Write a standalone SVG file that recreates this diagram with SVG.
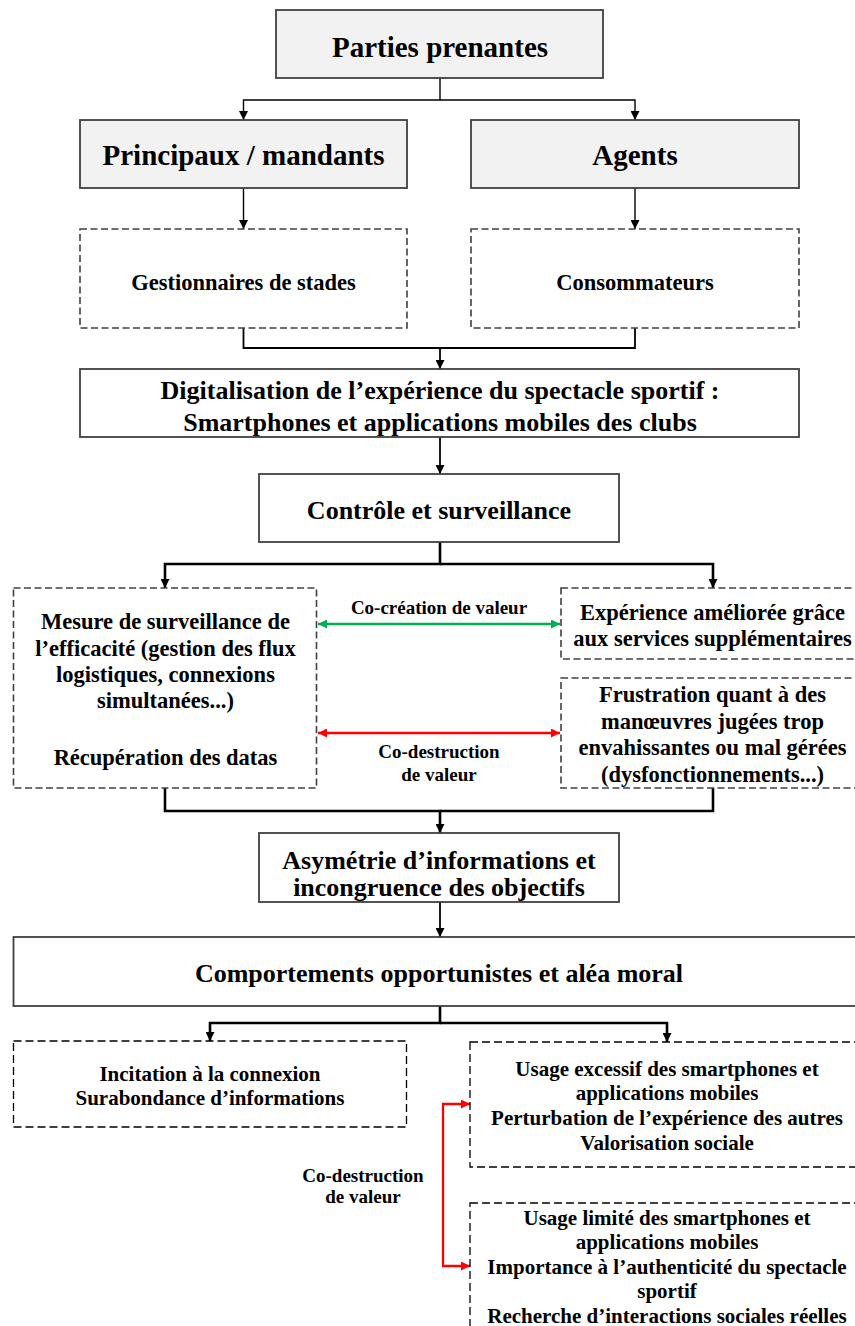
<svg xmlns="http://www.w3.org/2000/svg" width="855" height="1326" viewBox="0 0 855 1326">
<defs>
<style>
text{font-family:"Liberation Serif","Times New Roman",serif;font-weight:bold;fill:#000;text-anchor:middle}
.t29{font-size:29px}
.t26{font-size:26px}
.t22{font-size:22.5px}
.t21{font-size:21px}
.t19{font-size:19px}
.grey{fill:#f2f2f2;stroke:#404040;stroke-width:1.8}
.solid{fill:#fff;stroke:#404040;stroke-width:1.8}
.dashg{fill:#fff;stroke:#404040;stroke-width:1.6;stroke-dasharray:7 3.5}
.dashk{fill:#fff;stroke:#000;stroke-width:1.3;stroke-dasharray:8 4}
.thin{fill:none;stroke:#000;stroke-width:1.4}
.mid{fill:none;stroke:#000;stroke-width:1.8}
.thick{fill:none;stroke:#000;stroke-width:2.6}
.green{fill:none;stroke:#00b050;stroke-width:2.3}
.red{fill:none;stroke:#ff0000;stroke-width:2.3}
</style>
<marker id="ak" viewBox="0 0 10 10" refX="10" refY="5" markerUnits="userSpaceOnUse" markerWidth="9" markerHeight="9" orient="auto-start-reverse"><path d="M0,0 L10,5 L0,10 Z" fill="#000"/></marker>
<marker id="ag" viewBox="0 0 10 10" refX="10" refY="5" markerUnits="userSpaceOnUse" markerWidth="9" markerHeight="9" orient="auto-start-reverse"><path d="M0,0 L10,5 L0,10 Z" fill="#00b050"/></marker>
<marker id="ar" viewBox="0 0 10 10" refX="10" refY="5" markerUnits="userSpaceOnUse" markerWidth="9" markerHeight="9" orient="auto-start-reverse"><path d="M0,0 L10,5 L0,10 Z" fill="#ff0000"/></marker>
</defs>
<rect width="855" height="1326" fill="#fff"/>

<g id="connectors">
<path class="thin" d="M440,78 V100 H243.5 V120" marker-end="url(#ak)"/>
<path class="thin" d="M440,100 H635 V120" marker-end="url(#ak)"/>
<path class="thin" d="M243.5,188 V229" marker-end="url(#ak)"/>
<path class="thin" d="M635,188 V229" marker-end="url(#ak)"/>
<path class="mid" d="M243.5,328 V348 H440 V369" marker-end="url(#ak)"/>
<path class="mid" d="M635,328 V348 H440"/>
<path class="mid" d="M440,437 V474" marker-end="url(#ak)"/>
<path class="thick" d="M440,542 V564 H165 V588" marker-end="url(#ak)"/>
<path class="thick" d="M440,564 H713 V588" marker-end="url(#ak)"/>
<path class="green" d="M318,624 H560" marker-start="url(#ag)" marker-end="url(#ag)"/>
<path class="red" d="M318,733 H560" marker-start="url(#ar)" marker-end="url(#ar)"/>
<path class="thick" d="M165,788 V811 H440 V833" marker-end="url(#ak)"/>
<path class="thick" d="M713,788 V811 H440"/>
<path class="mid" d="M440,902 V937" marker-end="url(#ak)"/>
<path class="thick" d="M440,1006 V1023 H210 V1041" marker-end="url(#ak)"/>
<path class="thick" d="M440,1023 H667 V1042" marker-end="url(#ak)"/>
<path class="red" d="M470,1104 H443 V1266 H470" marker-start="url(#ar)" marker-end="url(#ar)"/>
</g>

<g id="parties">
<rect class="grey" x="276" y="10" width="327" height="68"/>
<text class="t29" x="440" y="57">Parties prenantes</text>
</g>
<g id="principaux">
<rect class="grey" x="80" y="120" width="327" height="68"/>
<text class="t29" x="243.5" y="165">Principaux / mandants</text>
</g>
<g id="agents">
<rect class="grey" x="471" y="120" width="328" height="68"/>
<text class="t29" x="635" y="165">Agents</text>
</g>
<g id="gestionnaires">
<rect class="dashg" x="80" y="229" width="327" height="99"/>
<text class="t22" x="243.5" y="290">Gestionnaires de stades</text>
</g>
<g id="consommateurs">
<rect class="dashg" x="471" y="229" width="328" height="99"/>
<text class="t22" x="635" y="290">Consommateurs</text>
</g>
<g id="digitalisation">
<rect class="solid" x="80" y="369" width="719" height="68"/>
<text class="t26" x="440" y="399">Digitalisation de l’expérience du spectacle sportif :</text>
<text class="t26" x="440" y="431">Smartphones et applications mobiles des clubs</text>
</g>
<g id="controle">
<rect class="solid" x="259" y="474" width="360" height="68"/>
<text class="t26" x="439" y="519">Contrôle et surveillance</text>
</g>
<g id="mesure">
<rect class="dashg" x="13.5" y="588" width="303" height="200"/>
<text class="t22" x="165.5" y="629">Mesure de surveillance de</text>
<text class="t22" x="165.5" y="656">l’efficacité (gestion des flux</text>
<text class="t22" x="165.5" y="682">logistiques, connexions</text>
<text class="t22" x="165.5" y="708">simultanées...)</text>
<text class="t22" x="165.5" y="765">Récupération des datas</text>
</g>
<g id="cocreation-label">
<text class="t19" x="439" y="614">Co-création de valeur</text>
</g>
<g id="codestruction-label">
<text class="t19" x="439" y="758">Co-destruction</text>
<text class="t19" x="439" y="781">de valeur</text>
</g>
<g id="experience">
<rect class="dashg" x="561" y="588" width="305" height="71"/>
<text class="t22" x="712.5" y="620">Expérience améliorée grâce</text>
<text class="t22" x="712.5" y="646">aux services supplémentaires</text>
</g>
<g id="frustration">
<rect class="dashg" x="561" y="678" width="305" height="110"/>
<text class="t22" x="712.5" y="702">Frustration quant à des</text>
<text class="t22" x="712.5" y="729">manœuvres jugées trop</text>
<text class="t22" x="712.5" y="755">envahissantes ou mal gérées</text>
<text class="t22" x="712.5" y="782">(dysfonctionnements...)</text>
</g>
<g id="asymetrie">
<rect class="solid" x="259" y="833" width="360" height="69"/>
<text class="t26" x="439" y="869">Asymétrie d’informations et</text>
<text class="t26" x="439" y="896">incongruence des objectifs</text>
</g>
<g id="comportements">
<rect class="solid" x="13.5" y="937" width="853" height="69"/>
<text class="t26" x="439" y="982">Comportements opportunistes et aléa moral</text>
</g>
<g id="incitation">
<rect class="dashk" x="13.5" y="1041" width="393" height="86"/>
<text class="t21" x="210" y="1081">Incitation à la connexion</text>
<text class="t21" x="210" y="1105">Surabondance d’informations</text>
</g>
<g id="usage-excessif">
<rect class="dashk" x="470" y="1042" width="395" height="125"/>
<text class="t21" x="667" y="1076">Usage excessif des smartphones et</text>
<text class="t21" x="667" y="1100">applications mobiles</text>
<text class="t21" x="667" y="1125">Perturbation de l’expérience des autres</text>
<text class="t21" x="667" y="1150">Valorisation sociale</text>
</g>
<g id="codestruction-label-2">
<text class="t19" x="363" y="1182">Co-destruction</text>
<text class="t19" x="363" y="1203">de valeur</text>
</g>
<g id="usage-limite">
<rect class="dashk" x="470" y="1203" width="395" height="135"/>
<text class="t21" x="667" y="1225">Usage limité des smartphones et</text>
<text class="t21" x="667" y="1249">applications mobiles</text>
<text class="t21" x="667" y="1274">Importance à l’authenticité du spectacle</text>
<text class="t21" x="667" y="1298">sportif</text>
<text class="t21" x="667" y="1323">Recherche d’interactions sociales réelles</text>
</g>
</svg>
